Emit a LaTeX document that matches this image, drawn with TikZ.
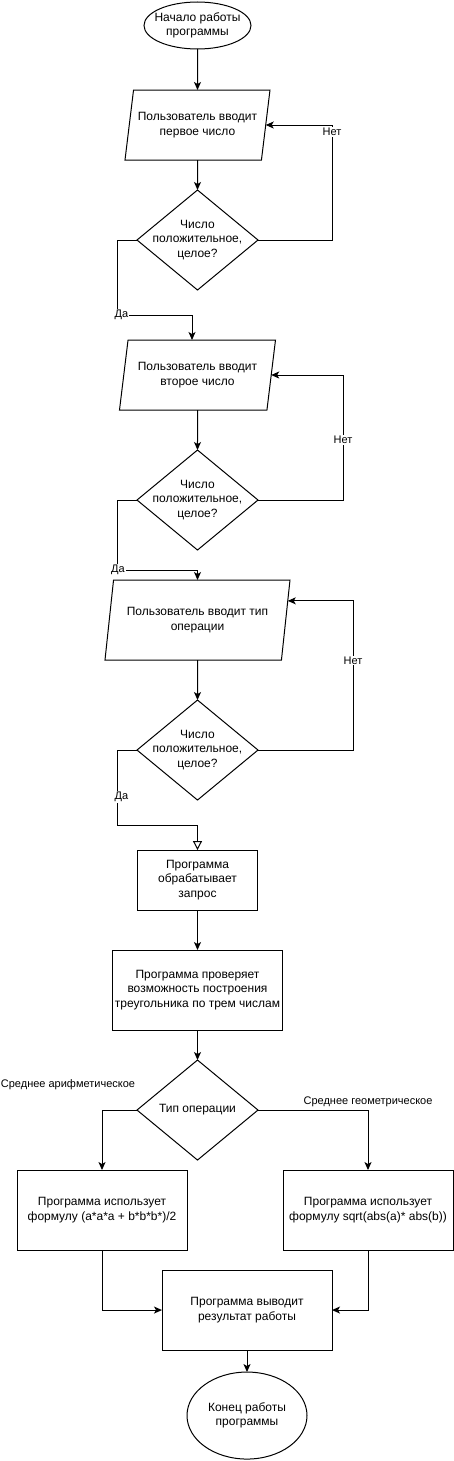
\documentclass[tikz,border=0pt]{standalone}
\usepackage{fontspec}
\setmainfont{Liberation Sans}
\usetikzlibrary{positioning,shapes.geometric,arrows.meta}

\begin{document}
\begin{tikzpicture}[x=1pt, y=1pt, node distance=40pt, line width=1pt,
    font=\fontsize{12}{14.5}\selectfont,
    every node/.style={align=center, outer sep=0pt},
    terminal/.style={draw, ellipse, inner xsep=-6pt, inner ysep=0pt},
    io/.style={draw, trapezium, trapezium left angle=75, trapezium right angle=105,
      trapezium stretches body, inner xsep=-10pt, minimum height=70pt},
    decision/.style={draw, diamond, minimum width=121pt, minimum height=100pt,
      inner xsep=-20pt, inner ysep=-5pt},
    process/.style={draw, rectangle, minimum width=170pt, minimum height=80pt, inner sep=1pt},
    flow/.style={-{Stealth[length=8pt, width=7pt, inset=2pt]}},
    yesflow/.style={-{Triangle[open, length=9pt, width=9pt]}},
    lbl/.style={font=\fontsize{11}{13}\selectfont, fill=white, inner sep=1pt}]
  \useasboundingbox (0,0) rectangle (453,-1461);

  \node[terminal, minimum width=107pt, minimum height=47pt] (start) at (197.5,-25.5) {Начало работы\\программы};
  \node[io, below=41pt of start, minimum width=145pt] (first) {Пользователь вводит\\первое число};
  \node[decision, below=30pt of first] (check1) {Число\\положительное,\\целое?};
  \node[io, below=50pt of check1, minimum width=156pt] (second) {Пользователь вводит\\второе число};
  \node[decision, below=of second] (check2) {Число\\положительное,\\целое?};
  \node[io, below=30pt of check2, minimum width=185pt, minimum height=80pt] (optype) {Пользователь вводит тип\\операции};
  \node[decision, below=of optype] (check3) {Число\\положительное,\\целое?};
  \node[process, below=50pt of check3, minimum width=120pt, minimum height=60pt] (handle) {Программа\\обрабатывает\\запрос};
  \node[process, below=of handle] (verify) {Программа проверяет\\возможность построения\\треугольника по трем числам};
  \node[decision, below=30pt of verify] (kind) {Тип операции};
  \node[process, below left=10pt and 10.5pt of kind.south] (arith) {Программа использует\\формулу (a*a*a + b*b*b*)/2};
  \node[process, below right=10pt and 85.5pt of kind.south] (geom) {Программа использует\\формулу sqrt(abs(a)* abs(b))};
  \node[process, below=110pt of kind, xshift=49.5pt] (result) {Программа выводит\\результат работы};
  \node[terminal, below=22pt of result, minimum width=120pt, minimum height=87pt] (finish) {Конец работы\\программы};

  \draw[flow] (start) -- (first);
  \draw[flow] (first) -- (check1);
  \draw[flow] (check1.east) -- ++(74,0) |- node[lbl, pos=0.47] {Нет} (first.0);
  \draw[flow] (check1.west) -- ++(-20,0) -- ++(0,-75) node[lbl, xshift=4.5pt] {Да} -| ([xshift=-5.5pt]second.north);
  \draw[flow] (second) -- (check2);
  \draw[flow] (check2.east) -- ++(85,0) |- node[lbl, pos=0.24] {Нет} (second.0);
  \draw[flow] (check2.west) -- ++(-20,0) -- ++(0,-70) node[lbl, xshift=1pt] {Да} -| (optype.north);
  \draw[flow] (optype) -- (check3);
  \draw[flow] (check3.east) -- ++(95,0) |- node[lbl, pos=0.3] {Нет} (optype.12);
  \draw[yesflow] (check3.west) -- ++(-20,0) -- node[lbl, pos=0.63, xshift=4.5pt] {Да} ++(0,-75) -| (handle.north);
  \draw[flow] (handle) -- (verify);
  \draw[flow] (verify) -- (kind);
  \draw[flow] (kind.west) -| node[lbl, pos=0.5, xshift=-34pt, yshift=25pt, fill=none] {Среднее арифметическое} (arith.north);
  \draw[flow] (kind.east) -| node[lbl, pos=0.5, yshift=8pt, fill=none] {Среднее геометрическое} (geom.north);
  \draw[flow] (arith.south) |- (result.west);
  \draw[flow] (geom.south) |- (result.east);
  \draw[flow] (result) -- (finish);
\end{tikzpicture}
\end{document}
